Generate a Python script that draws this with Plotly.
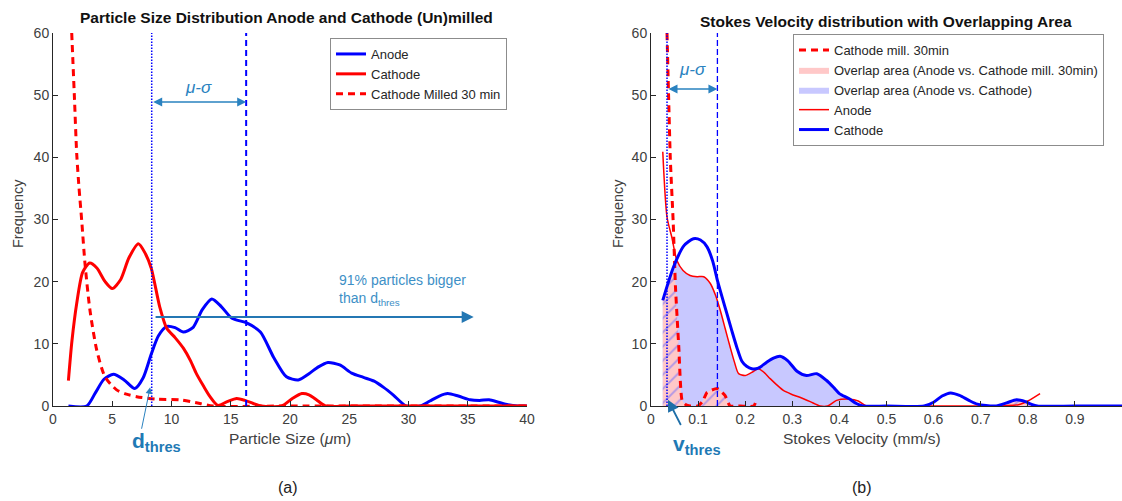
import plotly.graph_objects as go

# ---------------- Panel (a): particle size distribution ----------------
size_anode_x = [1.3, 2.85, 3.6, 4.3, 5.1, 6.0, 6.9, 7.6, 8.3, 8.9, 9.6, 10.3, 11.0, 11.8, 12.6, 13.4,
                14.2, 15.1, 16.3, 17.5, 18.6, 19.7, 20.7, 21.6, 22.4, 23.2, 24.2, 25.2, 26.2, 27.1,
                27.9, 28.7, 29.8, 31.0, 31.8, 32.6, 33.3, 34.2, 35.2, 36.0, 36.8, 37.6, 38.4, 39.2, 40.0]
size_anode_y = [0, 0, 2.2, 4.3, 5.1, 4.2, 2.8, 4.5, 8.4, 11.3, 12.8, 12.6, 11.9, 12.6, 15.5, 17.2,
                16.0, 14.1, 13.4, 11.9, 7.9, 4.7, 4.2, 5.2, 6.3, 7.0, 6.6, 5.3, 4.6, 4.0,
                3.0, 1.8, 0, 0, 0.8, 1.6, 2.0, 1.6, 1.0, 0.9, 1.0, 0.6, 0.2, 0, 0]

size_cathode_x = [1.3, 1.6, 2.0, 2.5, 3.1, 3.7, 4.4, 5.0, 5.7, 6.4, 7.2, 7.8, 8.3, 9.0, 9.6, 10.3,
                  11.0, 11.6, 12.1, 12.7, 13.25, 13.9, 14.7, 15.5, 16.2, 16.9, 17.6, 19.3, 20.2,
                  21.0, 21.6, 22.3, 23.0, 25.0, 30.0, 35.0, 40.0]
size_cathode_y = [4.1, 10.5, 16.5, 21.5, 23.0, 22.2, 20.0, 18.9, 20.3, 23.8, 26.1, 24.5, 22.1, 16.0,
                  12.5, 11.0, 9.3, 7.3, 5.2, 3.2, 1.5, 0.1, 0.7, 1.2, 0.9, 0.4, 0, 0, 1.2,
                  2.0, 1.8, 0.9, 0, 0, 0, 0, 0]

size_milled_x = [1.58, 1.8, 2.0, 2.2, 2.42, 2.7, 3.12, 3.69, 4.39, 5.37, 6.2, 7.06, 8.75, 10.7,
                 12.4, 13.5, 20.0, 30.0, 40.0]
size_milled_y = [60, 50, 40.6, 35, 29.9, 22.9, 15.4, 9.0, 4.7, 2.6, 1.9, 1.5, 1.1, 1.0,
                 0.4, 0, 0, 0, 0]

size_threshold = 8.33      # d_thres
size_mean = 16.3           # mu (dashed line)
size_arrow_level = 14.3    # "91% particles bigger" arrow
size_arrow_end = 35.5
size_ticks = [0, 5, 10, 15, 20, 25, 30, 35, 40]

# ---------------- Panel (b): Stokes velocity distribution ----------------
vel_cathode_x = [0.025, 0.048, 0.07, 0.09, 0.105, 0.119, 0.131, 0.141, 0.151, 0.161, 0.172, 0.182,
                 0.193, 0.203, 0.214, 0.228, 0.245, 0.26, 0.274, 0.29, 0.31, 0.33, 0.352, 0.373,
                 0.39, 0.40, 0.42, 0.436, 0.45, 0.5, 0.58, 0.6, 0.618, 0.636, 0.655, 0.675, 0.693,
                 0.73, 0.755, 0.776, 0.795, 0.807, 0.82, 0.9, 1.0]
vel_cathode_y = [17.0, 22.4, 25.8, 26.9, 26.7, 25.6, 23.3, 20.2, 17.5, 14.9, 12.0, 9.5,
                 7.2, 6.4, 6.0, 6.1, 7.0, 7.7, 8.0, 7.3, 5.6, 4.9, 5.2, 4.1,
                 2.8, 2.0, 1.2, 0.4, 0, 0, 0, 0.6, 1.6, 2.1, 1.7, 0.9, 0.3,
                 0, 0.5, 1.0, 0.7, 0.3, 0, 0, 0]

vel_anode_x = [0.025, 0.034, 0.044, 0.055, 0.068, 0.083, 0.098, 0.112, 0.126, 0.137, 0.147, 0.158,
               0.168, 0.177, 0.186, 0.2, 0.214, 0.228, 0.24, 0.253, 0.267, 0.281, 0.298, 0.316,
               0.338, 0.359, 0.375, 0.394, 0.422, 0.44, 0.458, 0.5, 0.6, 0.7, 0.78, 0.8, 0.826]
vel_anode_y = [40.9, 30.4, 27.2, 23.4, 21.8, 21.0, 20.8, 20.8, 19.7, 17.8, 15.4, 12.3,
               9.5, 7.1, 5.2, 4.9, 5.4, 6.0, 5.4, 4.4, 3.4, 2.5, 1.9, 1.4,
               0.7, 0, 0, 0.9, 1.1, 0.8, 0, 0, 0, 0, 0.2, 0.8, 2.0]

vel_milled_x = [0.034, 0.041, 0.047, 0.052, 0.059, 0.066, 0.074, 0.083, 0.1, 0.11, 0.119, 0.141,
                0.157, 0.168, 0.19, 0.218, 0.225]
vel_milled_y = [60, 39.8, 29.8, 19.1, 9.5, 0.9, 0.2, 0, 0, 0.8, 2.2, 2.8,
                1.7, 0, 0, 0, 1.2]

# overlap area (Anode vs. Cathode mill. 30min)
overlap_milled_x = [0.025, 0.035, 0.045, 0.05, 0.055, 0.059, 0.066, 0.074, 0.083, 0.1, 0.11, 0.119,
                    0.141, 0.157, 0.168, 0.19, 0.73, 0.755, 0.776, 0.795, 0.807, 0.82]
overlap_milled_y = [17.0, 19.3, 21.4, 21.0, 15.0, 9.5, 0.9, 0.2, 0, 0, 0.8, 2.2,
                    2.8, 1.7, 0, 0, 0, 0.5, 1.0, 0.7, 0.3, 0]

# overlap area (Anode vs. Cathode)
overlap_x = [0.025, 0.048, 0.055, 0.068, 0.083, 0.098, 0.112, 0.126, 0.137, 0.147, 0.158, 0.168,
             0.177, 0.186, 0.2, 0.214, 0.228, 0.245, 0.26, 0.274, 0.29, 0.31, 0.33, 0.352, 0.373,
             0.39, 0.40, 0.42, 0.436, 0.45]
overlap_y = [17.0, 22.4, 23.4, 21.8, 21.0, 20.8, 20.8, 19.7, 17.8, 15.4, 12.3, 9.5,
             7.1, 5.2, 4.9, 5.4, 6.0, 7.0, 7.7, 8.0, 7.3, 5.6, 4.9, 5.2, 4.1,
             2.8, 2.0, 1.2, 0.4, 0]

vel_threshold = 0.034
vel_mean = 0.141
vel_ticks = [0, 0.1, 0.2, 0.3, 0.4, 0.5, 0.6, 0.7, 0.8, 0.9, 1.0]
vel_tick_text = ["0", "0.1", "0.2", "0.3", "0.4", "0.5", "0.6", "0.7", "0.8", "0.9", "1"]

# ---------------- figure ----------------
W, H = 1122, 501
FONT = "Liberation Sans, Arial, Helvetica, sans-serif"
BLUE = "#0000ff"
RED = "#ff0000"
ANN = "#2a82c0"
SM = 0.7

fig = go.Figure()

# panel (a) traces
fig.add_trace(go.Scatter(x=size_anode_x, y=size_anode_y, name="Anode", mode="lines",
                         line=dict(color=BLUE, width=3, shape="spline", smoothing=SM),
                         legend="legend", legendrank=1))
fig.add_trace(go.Scatter(x=size_cathode_x, y=size_cathode_y, name="Cathode", mode="lines",
                         line=dict(color=RED, width=3, shape="spline", smoothing=SM),
                         legend="legend", legendrank=2))
fig.add_trace(go.Scatter(x=size_milled_x, y=size_milled_y, name="Cathode Milled 30 min", mode="lines",
                         line=dict(color=RED, width=3, dash="7px,5px", shape="spline", smoothing=SM),
                         legend="legend", legendrank=3))
fig.add_trace(go.Scatter(x=[size_threshold, size_threshold], y=[0, 60], mode="lines", showlegend=False,
                         line=dict(color=BLUE, width=1.5, dash="1.5px,1.5px"), hoverinfo="skip"))
fig.add_trace(go.Scatter(x=[size_mean, size_mean], y=[0, 60], mode="lines", showlegend=False,
                         line=dict(color=BLUE, width=2, dash="6px,4px"), hoverinfo="skip"))

# panel (b) traces
fig.add_trace(go.Scatter(x=overlap_x, y=overlap_y, xaxis="x2", yaxis="y2", mode="lines",
                         name="Overlap area (Anode vs. Cathode)", fill="tozeroy",
                         fillcolor="#c8c8ff", line=dict(width=0, color="#c8c8ff", shape="spline", smoothing=0.5),
                         legend="legend2", legendrank=3))
fig.add_trace(go.Scatter(x=overlap_milled_x, y=overlap_milled_y, xaxis="x2", yaxis="y2", mode="lines",
                         name="Overlap area (Anode vs. Cathode mill. 30min)", fill="tozeroy",
                         fillcolor="#ffc8c8", line=dict(width=0, color="#ffc8c8", shape="spline", smoothing=0.5),
                         legend="legend2", legendrank=2))
fig.add_trace(go.Scatter(x=overlap_milled_x, y=overlap_milled_y, xaxis="x2", yaxis="y2", mode="lines",
                         showlegend=False, fill="tozeroy", fillcolor="rgba(0,0,0,0)",
                         fillpattern=dict(shape="/", fgcolor="#6a6aff", bgcolor="rgba(0,0,0,0)",
                                          size=10, solidity=0.2),
                         line=dict(width=0, shape="spline", smoothing=0.5), hoverinfo="skip"))
fig.add_trace(go.Scatter(x=vel_milled_x, y=vel_milled_y, xaxis="x2", yaxis="y2", mode="lines",
                         name="Cathode mill. 30min",
                         line=dict(color=RED, width=3, dash="7px,5px", shape="spline", smoothing=0.5),
                         legend="legend2", legendrank=1))
fig.add_trace(go.Scatter(x=vel_anode_x, y=vel_anode_y, xaxis="x2", yaxis="y2", mode="lines",
                         name="Anode", line=dict(color=RED, width=1.5, shape="spline", smoothing=SM),
                         legend="legend2", legendrank=4))
fig.add_trace(go.Scatter(x=vel_cathode_x, y=vel_cathode_y, xaxis="x2", yaxis="y2", mode="lines",
                         name="Cathode", line=dict(color=BLUE, width=3, shape="spline", smoothing=SM),
                         legend="legend2", legendrank=5))
fig.add_trace(go.Scatter(x=[vel_threshold, vel_threshold], y=[0, 60], xaxis="x2", yaxis="y2", mode="lines",
                         showlegend=False, line=dict(color=BLUE, width=1.5, dash="1.5px,1.5px"),
                         hoverinfo="skip"))
fig.add_trace(go.Scatter(x=[vel_mean, vel_mean], y=[0, 60], xaxis="x2", yaxis="y2", mode="lines",
                         showlegend=False, line=dict(color=BLUE, width=1.3, dash="6px,3px"),
                         hoverinfo="skip"))

axis_common = dict(showgrid=False, zeroline=False, showline=True, linecolor="#262626", linewidth=1,
                   ticks="inside", ticklen=5, tickcolor="#262626", mirror=False, automargin=False,
                   tickfont=dict(family=FONT, size=14, color="#404040"))

y_dom = [1 - 406 / H, 1 - 33 / H]
fig.update_layout(
    width=W, height=H, margin=dict(l=0, r=0, t=0, b=0, pad=0, autoexpand=False),
    paper_bgcolor="white", plot_bgcolor="white",
    font=dict(family=FONT, size=13, color="#262626"),
    xaxis=dict(domain=[53 / W, 527 / W], range=[0, 40], tickvals=size_ticks, **axis_common),
    yaxis=dict(domain=y_dom, range=[0, 60], dtick=10, **axis_common),
    xaxis2=dict(domain=[651 / W, 1.0], range=[0, 1.0], tickvals=vel_ticks, ticktext=vel_tick_text,
                anchor="y2", **axis_common),
    yaxis2=dict(domain=y_dom, range=[0, 60], dtick=10, anchor="x2", **axis_common),
    legend=dict(x=330 / W, y=1 - 38 / H, xanchor="left", yanchor="top", bgcolor="white",
                bordercolor="#8c8c8c", borderwidth=1, font=dict(family=FONT, size=13, color="#262626"),
                tracegroupgap=0, traceorder="normal"),
    legend2=dict(x=793 / W, y=1 - 34 / H, xanchor="left", yanchor="top", bgcolor="white",
                 bordercolor="#8c8c8c", borderwidth=1, font=dict(family=FONT, size=13, color="#262626"),
                 tracegroupgap=0, traceorder="normal"),
    showlegend=True,
)


def paper_text(text, px, py, size, color, angle=0):
    return dict(text=text, x=px / W, y=1 - py / H, xref="paper", yref="paper", xanchor="center",
                yanchor="middle", textangle=angle, showarrow=False, font=dict(size=size, color=color))


anns = []
# titles
anns.append(paper_text("<b>Particle Size Distribution Anode and Cathode (Un)milled</b>", 286, 18, 15.5, "#111"))
anns.append(paper_text("<b>Stokes Velocity distribution with Overlapping Area</b>", 886, 21, 15.5, "#111"))
# axis titles
anns.append(paper_text("Frequency", 18, 214, 14.5, "#404040", angle=-90))
anns.append(paper_text("Frequency", 618, 214, 14.5, "#404040", angle=-90))
anns.append(paper_text("Particle Size (<i>μ</i>m)", 290, 438, 15.5, "#404040"))
anns.append(paper_text("Stokes Velocity (mm/s)", 862, 438, 15.5, "#404040"))
# captions
anns.append(paper_text("(a)", 288, 487, 16, "#222"))
anns.append(paper_text("(b)", 862, 487, 16, "#222"))

# panel (a) annotations
anns.append(dict(x=size_mean, y=48.9, ax=size_threshold, ay=48.9, xref="x", yref="y", axref="x", ayref="y",
                 showarrow=True, arrowhead=2, startarrowhead=2, arrowside="end+start", arrowsize=1.2,
                 arrowwidth=1.5, arrowcolor=ANN, text=""))
anns.append(dict(text="<i>μ-σ</i>", x=(size_threshold + size_mean) / 2, y=51.3, xref="x", yref="y",
                 xanchor="center", yanchor="middle", showarrow=False, font=dict(size=17, color=ANN)))
anns.append(dict(x=size_arrow_end, y=size_arrow_level, ax=size_threshold + 0.2, ay=size_arrow_level,
                 xref="x", yref="y", axref="x", ayref="y", showarrow=True, arrowhead=2, arrowsize=1.2,
                 arrowwidth=2, arrowcolor="#2477b3", text=""))
anns.append(dict(text="91% particles bigger<br>than d<sub>thres</sub>", x=24, y=18.6, xref="x", yref="y",
                 xanchor="left", yanchor="middle", align="left", showarrow=False,
                 font=dict(size=14, color="#3d8fc6")))
anns.append(dict(x=8.2, y=3.0, ax=7.45, ay=-3.9, xref="x", yref="y", axref="x", ayref="y",
                 showarrow=True, arrowhead=2, arrowsize=1.3, arrowwidth=1, arrowcolor=ANN, text=""))
anns.append(dict(text="<b>d<sub>thres</sub></b>", x=6.5, y=-5.8 / 60, xref="x", yref="y domain",
                 xanchor="left", yanchor="middle", showarrow=False, font=dict(size=21, color="#1f7ab5")))

# panel (b) annotations
anns.append(dict(x=vel_mean, y=51, ax=vel_threshold, ay=51, xref="x2", yref="y2", axref="x2", ayref="y2",
                 showarrow=True, arrowhead=2, startarrowhead=2, arrowside="end+start", arrowsize=1.2,
                 arrowwidth=1.5, arrowcolor=ANN, text=""))
anns.append(dict(text="<i>μ-σ</i>", x=(vel_threshold + vel_mean) / 2, y=54.2, xref="x2", yref="y2",
                 xanchor="center", yanchor="middle", showarrow=False, font=dict(size=17, color=ANN)))
anns.append(dict(x=0.036, y=1.0, ax=0.065, ay=-3.3, xref="x2", yref="y2", axref="x2", ayref="y2",
                 showarrow=True, arrowhead=2, arrowsize=1.3, arrowwidth=1.8, arrowcolor="#1f6fa8", text=""))
anns.append(dict(text="<b>v<sub>thres</sub></b>", x=0.042, y=-6.3 / 60, xref="x2", yref="y2 domain",
                 xanchor="left", yanchor="middle", showarrow=False, font=dict(size=21, color="#1f7ab5")))

fig.update_layout(annotations=anns)
fig.write_html("out.html", config={"displayModeBar": False},
               post_script="document.body.style.margin='0px';")
